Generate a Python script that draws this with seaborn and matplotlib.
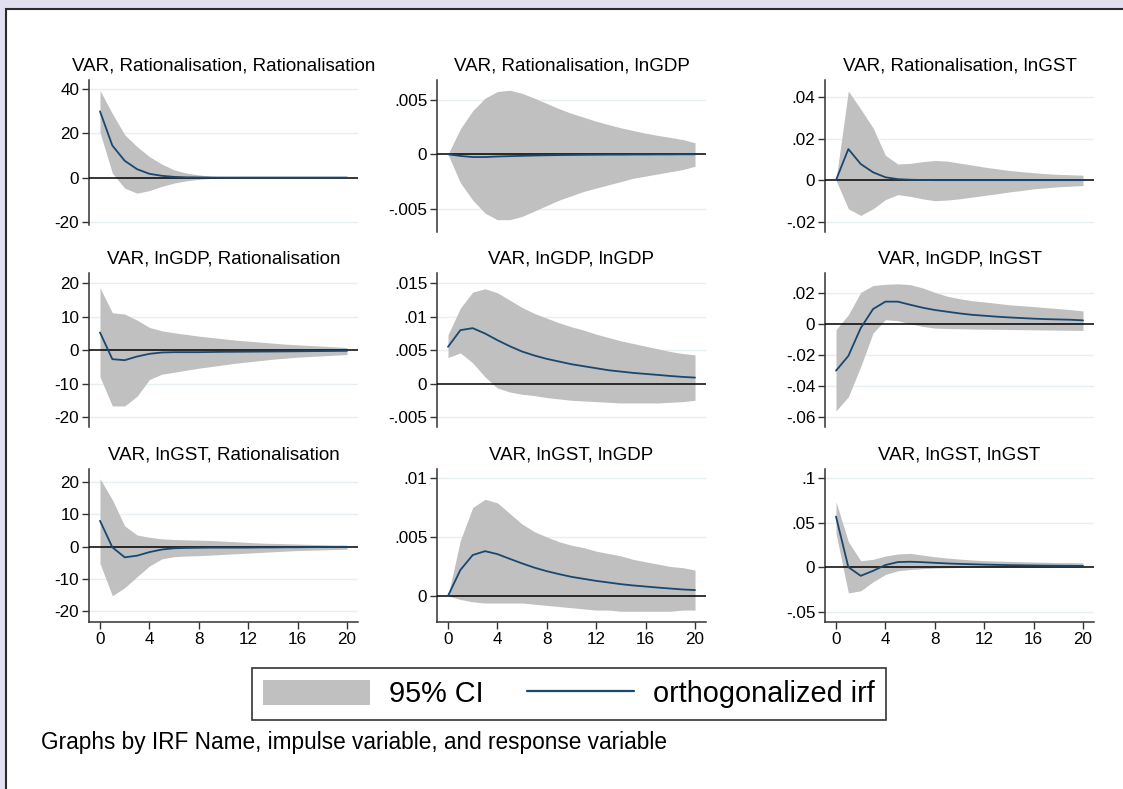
import matplotlib.pyplot as plt
import seaborn as sns
from matplotlib.patches import Patch, Rectangle
from matplotlib.lines import Line2D
from matplotlib.ticker import FuncFormatter

steps = list(range(21))

# impulse Rationalisation
rat_rat_irf = [30, 14.5, 7.6, 3.8, 1.7, 0.8, 0.3, 0.1, 0.05, 0, 0, 0, 0, 0, 0, 0, 0, 0, 0, 0, 0]
rat_rat_lo = [20.5, 2, -4.8, -7.1, -5.9, -4, -2.5, -1.5, -0.8, -0.4, -0.2, -0.1, 0, 0, 0, 0, 0, 0, 0, 0, 0]
rat_rat_hi = [39.5, 29, 19.4, 14, 9.5, 6.1, 3.5, 2, 1.2, 0.6, 0.3, 0.15, 0.1, 0, 0, 0, 0, 0, 0, 0, 0]

rat_gdp_irf = [0, -0.00015, -0.00025, -0.00025, -0.0002, -0.00017, -0.00014, -0.00011, -0.00009, -0.00007,
               -0.00006, -0.00005, -0.00004, -0.00003, -0.00003, -0.00002, -0.00002, -0.00001, -0.00001, 0, 0]
rat_gdp_lo = [0, -0.0026, -0.0042, -0.0054, -0.006, -0.006, -0.0057, -0.0052, -0.0047, -0.0042,
              -0.0038, -0.0034, -0.0031, -0.0028, -0.0025, -0.0022, -0.002, -0.0018, -0.0016, -0.0014, -0.0011]
rat_gdp_hi = [0, 0.00234, 0.004, 0.00515, 0.00576, 0.00588, 0.0056, 0.00515, 0.00467, 0.00418,
              0.00376, 0.0034, 0.00303, 0.00273, 0.00243, 0.00218, 0.00194, 0.00173, 0.00155, 0.00136, 0.00106]

rat_gst_irf = [0, 0.015, 0.0078, 0.0038, 0.0014, 0.0005, 0.0002, 0.0001, 0, 0, 0, 0, 0, 0, 0, 0, 0, 0, 0, 0, 0]
rat_gst_lo = [0, -0.0138, -0.017, -0.0138, -0.0094, -0.007, -0.0078, -0.009, -0.0099, -0.0096,
              -0.009, -0.0082, -0.0074, -0.0066, -0.0057, -0.005, -0.0042, -0.0037, -0.0032, -0.0029, -0.0026]
rat_gst_hi = [0, 0.043, 0.0343, 0.0252, 0.012, 0.0078, 0.0081, 0.0089, 0.0095, 0.0092,
              0.0082, 0.0073, 0.0063, 0.0055, 0.0047, 0.0041, 0.0036, 0.0031, 0.0028, 0.0026, 0.0024]

# impulse lnGDP
gdp_rat_irf = [5.3, -2.7, -3.0, -1.9, -1.1, -0.7, -0.6, -0.6, -0.6, -0.55, -0.5, -0.48, -0.45, -0.42, -0.4,
               -0.37, -0.34, -0.3, -0.27, -0.23, -0.2]
gdp_rat_lo = [-8.0, -16.7, -16.7, -13.8, -8.8, -7.2, -6.6, -6.0, -5.4, -4.9, -4.4, -3.9, -3.5, -3.1, -2.7,
              -2.4, -2.1, -1.9, -1.7, -1.5, -1.3]
gdp_rat_hi = [18.7, 11.2, 10.8, 9.0, 6.8, 5.8, 5.2, 4.7, 4.2, 3.8, 3.4, 3.0, 2.7, 2.4, 2.1, 1.8, 1.6, 1.4, 1.2,
              1.0, 0.8]

gdp_gdp_irf = [0.0055, 0.008, 0.0083, 0.0075, 0.0065, 0.0056, 0.0048, 0.0042, 0.0037, 0.0033, 0.0029, 0.0026,
               0.0023, 0.002, 0.0018, 0.0016, 0.00145, 0.0013, 0.00114, 0.001, 0.0009]
gdp_gdp_lo = [0.0039, 0.0046, 0.0031, 0.001, -0.00066, -0.00126, -0.0016, -0.0018, -0.0021, -0.0023, -0.0025,
              -0.0026, -0.0027, -0.0028, -0.0029, -0.0029, -0.0029, -0.0029, -0.0028, -0.0027, -0.0025]
gdp_gdp_hi = [0.0073, 0.0113, 0.0137, 0.0142, 0.0136, 0.0125, 0.0114, 0.0105, 0.0098, 0.0091, 0.0085, 0.008,
              0.0074, 0.0069, 0.0064, 0.006, 0.0056, 0.0052, 0.0048, 0.0045, 0.0043]

gdp_gst_irf = [-0.0301, -0.0206, -0.0026, 0.0097, 0.0145, 0.0145, 0.0125, 0.0106, 0.0091, 0.008, 0.0069, 0.006,
               0.0054, 0.0048, 0.0043, 0.0039, 0.0035, 0.0032, 0.003, 0.0028, 0.0024]
gdp_gst_lo = [-0.0561, -0.047, -0.0275, -0.0058, 0.0028, 0.0022, 0.0002, -0.0015, -0.0026, -0.0029, -0.003,
              -0.0032, -0.0033, -0.0034, -0.0035, -0.0036, -0.0037, -0.0038, -0.0039, -0.004, -0.0041]
gdp_gst_hi = [-0.0037, 0.006, 0.0205, 0.0249, 0.0257, 0.026, 0.0255, 0.0234, 0.0205, 0.018, 0.0164, 0.0151,
              0.0143, 0.0134, 0.0125, 0.0119, 0.0113, 0.0106, 0.01, 0.0093, 0.0085]

# impulse lnGST
gst_rat_irf = [8.0, -0.2, -3.3, -2.8, -1.7, -0.9, -0.5, -0.4, -0.35, -0.3, -0.3, -0.3, -0.3, -0.25, -0.25,
               -0.2, -0.2, -0.15, -0.15, -0.1, -0.1]
gst_rat_lo = [-5.2, -15.2, -12.7, -9.3, -6.0, -3.8, -3.1, -2.9, -2.8, -2.6, -2.4, -2.2, -2.0, -1.8, -1.6,
              -1.4, -1.2, -1.1, -1.0, -0.9, -0.8]
gst_rat_hi = [21.0, 14.5, 6.4, 3.6, 2.9, 2.4, 2.2, 2.1, 2.0, 1.9, 1.7, 1.5, 1.3, 1.1, 1.0, 0.9, 0.8, 0.7, 0.6,
              0.5, 0.5]

gst_gdp_irf = [0, 0.0022, 0.00347, 0.0038, 0.00355, 0.00315, 0.00276, 0.0024, 0.0021, 0.00185, 0.00162,
               0.00145, 0.00128, 0.00114, 0.001, 0.00089, 0.0008, 0.00071, 0.00063, 0.00055, 0.0005]
gst_gdp_lo = [0, -0.0003, -0.0005, -0.0006, -0.0006, -0.0006, -0.0006, -0.0007, -0.0008, -0.0009, -0.001,
              -0.0011, -0.0012, -0.0012, -0.0013, -0.0013, -0.0013, -0.0013, -0.0013, -0.0012, -0.0012]
gst_gdp_hi = [0, 0.0047, 0.0075, 0.0082, 0.0079, 0.007, 0.0061, 0.00545, 0.005, 0.0046, 0.0043, 0.0041,
              0.0038, 0.0036, 0.0034, 0.0031, 0.0029, 0.0027, 0.0025, 0.0024, 0.0022]

gst_gst_irf = [0.0568, 0, -0.0098, -0.0042, 0.0023, 0.0056, 0.006, 0.0055, 0.0048, 0.0041, 0.0036, 0.0032,
               0.0028, 0.0025, 0.0022, 0.002, 0.0018, 0.0016, 0.0015, 0.0014, 0.0013]
gst_gst_lo = [0.038, -0.029, -0.0267, -0.0166, -0.0083, -0.0042, -0.0027, -0.0018, -0.0012, -0.0008, -0.0005,
              -0.0003, -0.0002, -0.0002, -0.0001, -0.0001, -0.0001, -0.0001, -0.0001, -0.0001, -0.0001]
gst_gst_hi = [0.0737, 0.0286, 0.0071, 0.0087, 0.0124, 0.0147, 0.0154, 0.0135, 0.0116, 0.0102, 0.009, 0.008,
              0.0072, 0.0068, 0.0064, 0.006, 0.0057, 0.0054, 0.005, 0.005, 0.0047]

titles = ["VAR, Rationalisation, Rationalisation", "VAR, Rationalisation, lnGDP", "VAR, Rationalisation, lnGST",
          "VAR, lnGDP, Rationalisation", "VAR, lnGDP, lnGDP", "VAR, lnGDP, lnGST",
          "VAR, lnGST, Rationalisation", "VAR, lnGST, lnGDP", "VAR, lnGST, lnGST"]
irfs = [rat_rat_irf, rat_gdp_irf, rat_gst_irf, gdp_rat_irf, gdp_gdp_irf, gdp_gst_irf,
        gst_rat_irf, gst_gdp_irf, gst_gst_irf]
lows = [rat_rat_lo, rat_gdp_lo, rat_gst_lo, gdp_rat_lo, gdp_gdp_lo, gdp_gst_lo, gst_rat_lo, gst_gdp_lo, gst_gst_lo]
highs = [rat_rat_hi, rat_gdp_hi, rat_gst_hi, gdp_rat_hi, gdp_gdp_hi, gdp_gst_hi, gst_rat_hi, gst_gdp_hi, gst_gst_hi]

yticks = [[-20, 0, 20, 40], [-0.005, 0, 0.005], [-0.02, 0, 0.02, 0.04],
          [-20, -10, 0, 10, 20], [-0.005, 0, 0.005, 0.01, 0.015], [-0.06, -0.04, -0.02, 0, 0.02],
          [-20, -10, 0, 10, 20], [0, 0.005, 0.01], [-0.05, 0, 0.05, 0.1]]
ylims = [(-21.5, 44.2), (-0.00713, 0.00682), (-0.025, 0.0483),
         (-23.0, 23.1), (-0.0065, 0.01656), (-0.0665, 0.033),
         (-23.3, 24.0), (-0.00221, 0.01077), (-0.0617, 0.1102)]
xticks = [0, 4, 8, 12, 16, 20]

W, H = 1123, 789
col_px = [(89, 358), (437, 706), (825, 1094)]
row_px = [(80, 232), (273, 427), (469, 622)]

band_col = "#c0c0c0"
line_col = "#1a476f"
grid_col = "#e6eff1"
axis_col = "#333333"

sns.set_style("white")
plt.rcParams["font.family"] = ["Liberation Sans", "DejaVu Sans"]
plt.rcParams["text.color"] = "black"
plt.rcParams["xtick.color"] = "black"
plt.rcParams["ytick.color"] = "black"

fig = plt.figure(figsize=(W / 100, H / 100), dpi=100)
fig.patch.set_facecolor("#e2e0f0")
fig.patches.append(Rectangle((6 / W, -0.1), 1.2, (H - 9) / H + 0.1, transform=fig.transFigure,
                             facecolor="white", edgecolor="#2b2b2b", lw=1.5, zorder=-5))


def stata_fmt(v, pos):
    if abs(v) < 1e-12:
        return "0"
    s = "%g" % round(v, 6)
    if s.startswith("0."):
        s = s[1:]
    elif s.startswith("-0."):
        s = "-" + s[2:]
    return s


for i in range(9):
    r, c = divmod(i, 3)
    x0, x1 = col_px[c]
    y0, y1 = row_px[r]
    if i == 0:
        y1 = 225
    ax = fig.add_axes([x0 / W, 1 - y1 / H, (x1 - x0) / W, (y1 - y0) / H])
    ax.set_facecolor("none")
    ax.fill_between(steps, lows[i], highs[i], color=band_col, lw=0, zorder=2)
    sns.lineplot(x=steps, y=irfs[i], ax=ax, color=line_col, lw=1.3, zorder=4)
    ax.axhline(0, color="black", lw=1.1, zorder=3)
    ax.set_xlim(-0.89, 20.89)
    ax.set_ylim(*ylims[i])
    ax.set_yticks(yticks[i])
    ax.yaxis.set_major_formatter(FuncFormatter(stata_fmt))
    for t in yticks[i]:
        if t != 0:
            ax.axhline(t, color=grid_col, lw=1, zorder=1)
    for side in ["top", "right"]:
        ax.spines[side].set_visible(False)
    ax.spines["left"].set_color(axis_col)
    ax.spines["left"].set_linewidth(1.1)
    ax.tick_params(axis="y", left=True, length=5, width=1, color=axis_col, labelcolor="black",
                   labelsize=12.3, pad=2)
    if r == 2:
        ax.set_xticks(xticks)
        ax.spines["bottom"].set_color(axis_col)
        ax.spines["bottom"].set_linewidth(1.1)
        ax.tick_params(axis="x", bottom=True, length=5, width=1, color=axis_col, labelcolor="black",
                       labelsize=12.3, pad=2)
    else:
        ax.spines["bottom"].set_visible(False)
        ax.set_xticks([])
    ax.set_xlabel("")
    ax.set_ylabel("")
    ax.set_title(titles[i], fontsize=13.5, pad=7, color="black")

handles = [Patch(facecolor=band_col, edgecolor="none"), Line2D([], [], color=line_col, lw=1.6)]
leg = fig.legend(handles, ["95% CI", "orthogonalized irf"], loc="center",
                 bbox_to_anchor=(569 / W, 1 - 694 / H), ncol=2, fontsize=20.8, frameon=True,
                 fancybox=False, edgecolor="black", handlelength=3.7, handleheight=1.0,
                 handletextpad=0.65, columnspacing=1.5, borderpad=0.4, borderaxespad=0)
leg.get_frame().set_linewidth(1.2)
for txt in leg.get_texts():
    txt.set_color("black")

fig.text(41 / W, 1 - 742 / H, "Graphs by IRF Name, impulse variable, and response variable",
         fontsize=16.3, va="center", ha="left", color="black")

fig.savefig("out.png", dpi=100)
